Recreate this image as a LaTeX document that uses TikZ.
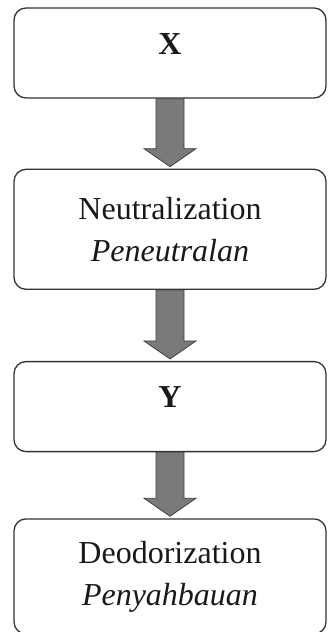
\documentclass[tikz,border=0pt]{standalone}
\usepackage{fontspec}
\setmainfont{Liberation Serif}
\usetikzlibrary{positioning}
\usetikzlibrary{calc}

\begin{document}
\begin{tikzpicture}[x=1pt, y=1pt,
                    stage/.style={draw=black!80, line width=1.3pt, rounded corners=12pt, minimum width=312pt, inner sep=0pt,
                                  align=center, text=black!90, font=\fontsize{32}{42}\selectfont},
                    short/.style={stage, minimum height=90pt, text height=22pt, text depth=20pt, font=\fontsize{32}{42}\selectfont\bfseries},
                    tall/.style={stage, minimum height=#1},
                    flow/.style={draw=black!75, fill=black!52, line width=0.8pt, line join=miter}]
    \useasboundingbox (0,0) rectangle (327,-632);
    \node[short] (bx) at (170,-53) {X};
    \node[tall=120pt, below=70pt of bx] (bn) {Neutralization\\\textit{Peneutralan}};
    \node[short, below=71pt of bn] (by) {Y};
    \node[tall=115pt, below=66pt of by] (bd) {Deodorization\\\textit{Penyahbauan}};

    % block arrows between the stages
    \foreach \a/\b in {bx/bn, bn/by, by/bd}
        \draw[flow] ($(\a.south)+(-14,0)$) -- ($(\b.north)+(-14,20)$) -- ($(\b.north)+(-26,20)$)
            -- ($(\b.north)+(0,2)$) -- ($(\b.north)+(26,20)$) -- ($(\b.north)+(14,20)$) -- ($(\a.south)+(14,0)$) -- cycle;
\end{tikzpicture}
\end{document}
